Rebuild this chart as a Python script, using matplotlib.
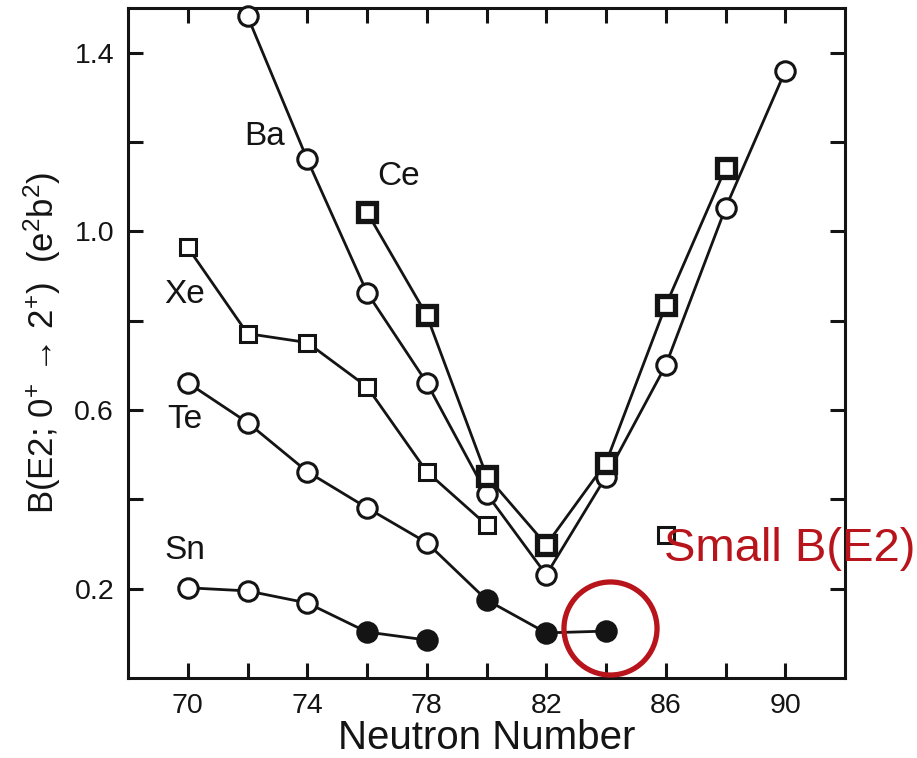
import numpy as np
import matplotlib
matplotlib.use('Agg')
import matplotlib.pyplot as plt

plt.rcParams['font.family'] = ['Liberation Sans', 'DejaVu Sans']
plt.rcParams['mathtext.fontset'] = 'custom'
plt.rcParams['mathtext.rm'] = 'Liberation Sans'
plt.rcParams['mathtext.it'] = 'Liberation Sans:italic'

# B(E2; 0+ -> 2+) in e^2 b^2
sn_n = [70, 72, 74, 76, 78]
sn_b = [0.202, 0.195, 0.168, 0.103, 0.085]
sn_filled = [False, False, False, True, True]

te_n = [70, 72, 74, 76, 78, 80, 82, 84]
te_b = [0.661, 0.572, 0.462, 0.381, 0.303, 0.175, 0.101, 0.105]
te_filled = [False, False, False, False, False, True, True, True]

xe_n = [70, 72, 74, 76, 78, 80]
xe_b = [0.964, 0.771, 0.751, 0.652, 0.462, 0.343]
xe_extra_n = [86]
xe_extra_b = [0.321]

ba_n = [72, 74, 76, 78, 80, 82, 84, 86, 88, 90]
ba_b = [1.482, 1.161, 0.863, 0.661, 0.413, 0.231, 0.451, 0.700, 1.052, 1.359]

ce_n = [76, 78, 80, 82, 84, 86, 88]
ce_b = [1.043, 0.812, 0.453, 0.298, 0.482, 0.834, 1.141]

labels = ['Ba', 'Ce', 'Xe', 'Te', 'Sn']
label_x = [72.57, 77.07, 69.9, 69.9, 69.9]
label_y = [1.213, 1.123, 0.859, 0.578, 0.285]

highlight_n, highlight_b = 84.15, 0.112
note = 'Small B(E2)'
red = '#b8141c'
ink = '#141414'

fig = plt.figure(figsize=(9.17, 7.58), dpi=100)
ax = fig.add_axes([128 / 917, 80 / 758, 717 / 917, 670 / 758])

lw = 2.0
circ = dict(marker='o', ms=14, mew=2.2)
sq = dict(marker='s', ms=12, mew=2.2)
sq_bold = dict(marker='s', ms=13, mew=3.8)

def series(n, b, filled, style):
    ax.plot(n, b, linestyle='-', color=ink, lw=lw, zorder=2)
    for x, y, f in zip(n, b, filled):
        ax.plot([x], [y], linestyle='None', marker=style['marker'], ms=style['ms'], mew=style['mew'],
                mec=ink, mfc=ink if f else 'white', clip_on=False, zorder=3)

series(sn_n, sn_b, sn_filled, circ)
series(te_n, te_b, te_filled, circ)
series(xe_n, xe_b, [False] * len(xe_n), sq)
series(xe_extra_n, xe_extra_b, [False], sq)
series(ba_n, ba_b, [False] * len(ba_n), circ)
series(ce_n, ce_b, [False] * len(ce_n), sq_bold)

for t, x, y in zip(labels, label_x, label_y):
    ax.text(x, y, t, fontsize=24, color=ink, ha='center', va='center')

ax.plot([highlight_n], [highlight_b], marker='o', ms=67, mfc='none', mec=red, mew=3.8,
        linestyle='None', clip_on=False, zorder=4)
ax.text(85.95, 0.289, note, fontsize=34, color=red, ha='left', va='center', clip_on=False, zorder=5)

ax.set_xlim(68, 92)
ax.set_ylim(0, 1.5)
ax.set_xticks(np.arange(70, 91, 4))
ax.set_xticks(np.arange(72, 91, 4), minor=True)
ax.set_yticks([0.2, 0.6, 1.0, 1.4])
ax.set_yticks([0.4, 0.8, 1.2], minor=True)
ax.set_yticklabels(['0.2', '0.6', '1.0', '1.4'])
ax.tick_params(which='both', direction='in', top=True, right=True, length=11, width=2.2,
               labelsize=20.5, colors=ink)
ax.tick_params(axis='x', pad=11)
ax.tick_params(axis='y', pad=10)
for s in ax.spines.values():
    s.set_linewidth(2.2)
    s.set_color(ink)

ax.set_xlabel('Neutron Number', fontsize=29, color=ink, labelpad=0)
ax.set_ylabel('B(E2; 0$^{+}$ \u2192 2$^{+}$)  (e$^{2}$b$^{2}$)', fontsize=25, color=ink, labelpad=8)

fig.savefig('out.png', dpi=100)
